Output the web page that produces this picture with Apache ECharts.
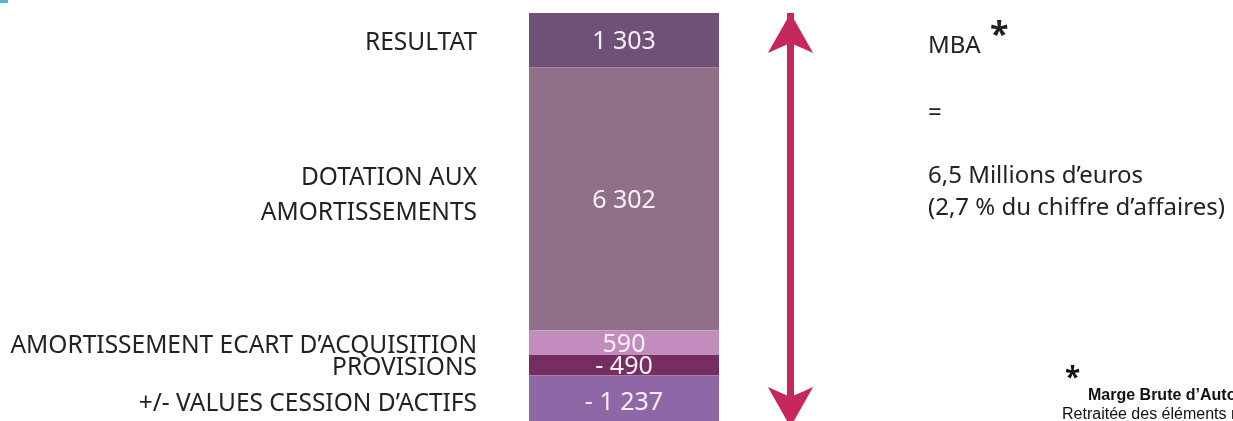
<!DOCTYPE html>
<html>
<head>
<meta charset="utf-8">
<script src="https://cdn.jsdelivr.net/npm/echarts@6/dist/echarts.min.js"></script>
<style>
  html, body { margin: 0; padding: 0; background: #fff; overflow: hidden; }
  #mba_chart { width: 1233px; height: 430px; }
</style>
</head>
<body>
<div id="mba_chart"></div>
<script>
// Formation de la MBA (milliers d'euros)
var postes = ['RESULTAT', 'DOTATION AUX\nAMORTISSEMENTS', 'AMORTISSEMENT ECART D\u2019ACQUISITION', 'PROVISIONS', '+/- VALUES CESSION D\u2019ACTIFS'];
var montants = [1303, 6302, 590, -490, -1237];
var couleurs = ['#6f5079', '#8f7088', '#c38cbf', '#752e5f', '#8f66a6'];

var textFont = 'Noto Sans';

function formatMontant(v) {
    var s = String(Math.abs(v)).replace(/\B(?=(\d{3})+(?!\d))/g, ' ');
    return v < 0 ? '- ' + s : s;
}

var hauteurs = montants.map(function (v) { return Math.abs(v); });
var total = hauteurs.reduce(function (a, b) { return a + b; }, 0);

var chart = echarts.init(document.getElementById('mba_chart'));

var series = [];
// segments de la barre, valeur au centre
postes.forEach(function (p, i) {
    series.push({
        name: p,
        type: 'bar',
        xAxisIndex: 0,
        yAxisIndex: 0,
        stack: 'seg',
        barWidth: '100%',
        silent: true,
        itemStyle: { color: couleurs[i] },
        label: {
            show: true,
            position: 'inside',
            offset: [0, 2],
            color: '#f6f0f6',
            fontFamily: textFont,
            fontSize: 25,
            formatter: function () { return formatMontant(montants[i]); }
        },
        data: [hauteurs[i]]
    });
});
// libellés à gauche (série transparente sur le même axe)
postes.forEach(function (p, i) {
    series.push({
        name: p + '_lbl',
        type: 'bar',
        xAxisIndex: 1,
        yAxisIndex: 1,
        stack: 'lbl',
        barWidth: '100%',
        silent: true,
        itemStyle: { color: 'rgba(0,0,0,0)' },
        label: {
            show: true,
            position: 'left',
            distance: 52,
            align: 'right',
            offset: [0, p.indexOf('\n') >= 0 ? -3 : 3],
            color: '#222',
            fontFamily: textFont,
            fontSize: 24.5,
            lineHeight: 35,
            formatter: function () { return postes[i]; }
        },
        data: [hauteurs[i]]
    });
});
// flèche MBA
series.push({
    type: 'line',
    xAxisIndex: 2,
    yAxisIndex: 2,
    data: [],
    silent: true,
    markLine: {
        silent: true,
        symbol: ['arrow', 'arrow'],
        symbolSize: [34, 40],
        label: { show: false },
        lineStyle: { color: '#c6285e', width: 7, type: 'solid' },
        data: [[{ coord: ['MBA', 0] }, { coord: ['MBA', total] }]]
    }
});

var valueAxis = function (g) {
    return { gridIndex: g, type: 'value', inverse: true, min: 0, max: total, show: false };
};

var option = {
    animation: false,
    grid: [
        { left: 529, width: 190, top: 13, height: 414 },
        { left: 770, width: 41, top: 13, height: 414 }
    ],
    xAxis: [
        { gridIndex: 0, type: 'category', data: ['MBA'], show: false },
        { gridIndex: 0, type: 'category', data: ['MBA'], show: false, position: 'top' },
        { gridIndex: 1, type: 'category', data: ['MBA'], show: false }
    ],
    yAxis: [valueAxis(0), valueAxis(0), valueAxis(1)],
    series: series,
    graphic: [
        { type: 'rect', left: 0, top: 0, shape: { width: 8, height: 3 }, style: { fill: '#4fb6de' } },
        { type: 'text', left: 928, top: 34, style: { text: 'MBA', font: '24px "Noto Sans"', fill: '#222' } },
        { type: 'text', left: 990, top: 19, style: { text: '*', font: 'bold 34px "Noto Sans"', fill: '#222' } },
        { type: 'text', left: 928, top: 101, style: { text: '=', font: '24px "Noto Sans"', fill: '#222' } },
        { type: 'text', left: 928, top: 164, style: { text: '6,5 Millions d\u2019euros', font: '24px "Noto Sans"', fill: '#222' } },
        { type: 'text', left: 928, top: 196, style: { text: '(2,7 % du chiffre d\u2019affaires)', font: '24px "Noto Sans"', fill: '#222' } },
        { type: 'text', left: 1065, top: 365, style: { text: '*', font: 'bold 28px "Noto Sans"', fill: '#111' } },
        { type: 'text', left: 1088, top: 388, style: { text: 'Marge Brute d\u2019Autofinancement', font: 'bold 16px "Liberation Sans"', fill: '#111' } },
        { type: 'text', left: 1062, top: 407, style: { text: 'Retraitée des éléments non courants', font: '16px "Liberation Sans"', fill: '#111' } }
    ]
};

chart.setOption(option);
window.addEventListener('resize', function () { chart.resize(); });
</script>
</body>
</html>
